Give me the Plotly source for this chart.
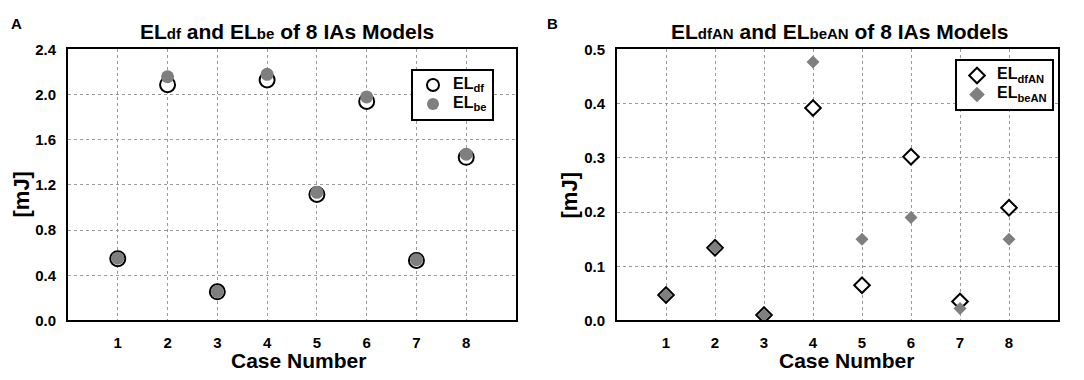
import plotly.graph_objects as go

cases = [1, 2, 3, 4, 5, 6, 7, 8]
el_df = [0.547, 2.088, 0.254, 2.13, 1.116, 1.94, 0.532, 1.445]
el_be = [0.552, 2.158, 0.256, 2.18, 1.135, 1.98, 0.538, 1.473]
el_dfan = [0.047, 0.134, 0.010, 0.392, 0.065, 0.302, 0.035, 0.208]
el_bean = [0.047, 0.134, 0.010, 0.477, 0.150, 0.190, 0.022, 0.150]
left_ticks = [0.0, 0.4, 0.8, 1.2, 1.6, 2.0, 2.4]
right_ticks = [0.0, 0.1, 0.2, 0.3, 0.4, 0.5]

FONT = "Liberation Sans, Arial, sans-serif"
GRAY = "#7f7f7f"

# page has an 8px body margin; figure sized to fit the 1084x380 window
OFF = 8
W, H = 1084 - OFF, 380 - OFF


def px(x):
    return (x - OFF) / W


def py(y):
    return 1 - (y - OFF) / H


def leg(name, sub):
    return f"<span style='font-size:16px'>{name}<sub>{sub}</sub></span>"


fig = go.Figure()

fig.add_trace(go.Scatter(x=cases, y=el_df, mode="markers", name=leg("EL", "df"),
                         marker=dict(symbol="circle", size=15, color="white",
                                     line=dict(color="black", width=2)),
                         xaxis="x", yaxis="y", legend="legend"))
fig.add_trace(go.Scatter(x=cases, y=el_be, mode="markers", name=leg("EL", "be"),
                         marker=dict(symbol="circle", size=13, color=GRAY,
                                     line=dict(color=GRAY, width=0)),
                         xaxis="x", yaxis="y", legend="legend"))
fig.add_trace(go.Scatter(x=cases, y=el_dfan, mode="markers", name=leg("EL", "dfAN"),
                         marker=dict(symbol="diamond", size=12, color="white",
                                     line=dict(color="black", width=2)),
                         xaxis="x2", yaxis="y2", legend="legend2"))
fig.add_trace(go.Scatter(x=cases, y=el_bean, mode="markers", name=leg("EL", "beAN"),
                         marker=dict(symbol="diamond", size=10, color=GRAY,
                                     line=dict(color=GRAY, width=0)),
                         xaxis="x2", yaxis="y2", legend="legend2"))

ydom = [py(326), py(42)]
tickfont = dict(family=FONT, size=15, color="black", weight="bold")
axcommon = dict(showline=True, linecolor="black", linewidth=2, mirror=True,
                showgrid=True, gridcolor="#9a9a9a", griddash="dot", gridwidth=1,
                zeroline=False, tickfont=tickfont)
xcommon = dict(range=[0, 9], tickvals=cases, ticks="outside", ticklen=8,
               tickcolor="rgba(0,0,0,0)", **axcommon)
ycommon = dict(ticks="outside", ticklen=7, tickcolor="rgba(0,0,0,0)", **axcommon)

legcommon = dict(xanchor="left", yanchor="top", bgcolor="white", bordercolor="black",
                 borderwidth=2, font=dict(family=FONT, size=10, color="black", weight="bold"),
                 itemsizing="constant", itemwidth=30, tracegroupgap=0)

fig.update_layout(
    width=W, height=H,
    margin=dict(l=0, r=0, t=0, b=0),
    plot_bgcolor="white", paper_bgcolor="white",
    font=dict(family=FONT, color="black"),
    xaxis=dict(domain=[px(68), px(516)], **xcommon),
    yaxis=dict(domain=ydom, range=[0, 2.4], tickvals=left_ticks,
               ticktext=[f"{v:.1f}" for v in left_ticks], **ycommon),
    xaxis2=dict(domain=[px(617), px(1058)], anchor="y2", **xcommon),
    yaxis2=dict(domain=ydom, range=[0, 0.5], tickvals=right_ticks,
                ticktext=[f"{v:.1f}" for v in right_ticks], anchor="x2", **ycommon),
    legend=dict(x=px(411), y=py(62), **legcommon),
    legend2=dict(x=px(955), y=py(52), **legcommon),
)

ann_font = dict(family=FONT, color="black", weight="bold")
annotations = [
    dict(text="A", x=px(9), y=py(15), xanchor="left", font=dict(size=15, **ann_font)),
    dict(text="B", x=px(545), y=py(15), xanchor="left", font=dict(size=15, **ann_font)),
    dict(text="EL<span style='font-size:15px'>df</span> and EL<span style='font-size:15px'>be</span> of 8 IAs Models",
         x=px(287), y=py(23), font=dict(size=21, **ann_font)),
    dict(text="EL<span style='font-size:15px'>dfAN</span> and EL<span style='font-size:15px'>beAN</span> of 8 IAs Models",
         x=px(840), y=py(23), font=dict(size=21, **ann_font)),
    dict(text="[mJ]", x=px(21), y=py(194), textangle=-90, font=dict(size=22, **ann_font)),
    dict(text="[mJ]", x=px(569), y=py(195), textangle=-90, font=dict(size=22, **ann_font)),
    dict(text="Case Number", x=px(298), y=py(368), font=dict(size=21, **ann_font)),
    dict(text="Case Number", x=px(846), y=py(368), font=dict(size=21, **ann_font)),
]
for a in annotations:
    a.setdefault("xanchor", "center")
    a.update(xref="paper", yref="paper", showarrow=False, yanchor="middle")
fig.update_layout(annotations=annotations)

fig.write_html("out.html")
